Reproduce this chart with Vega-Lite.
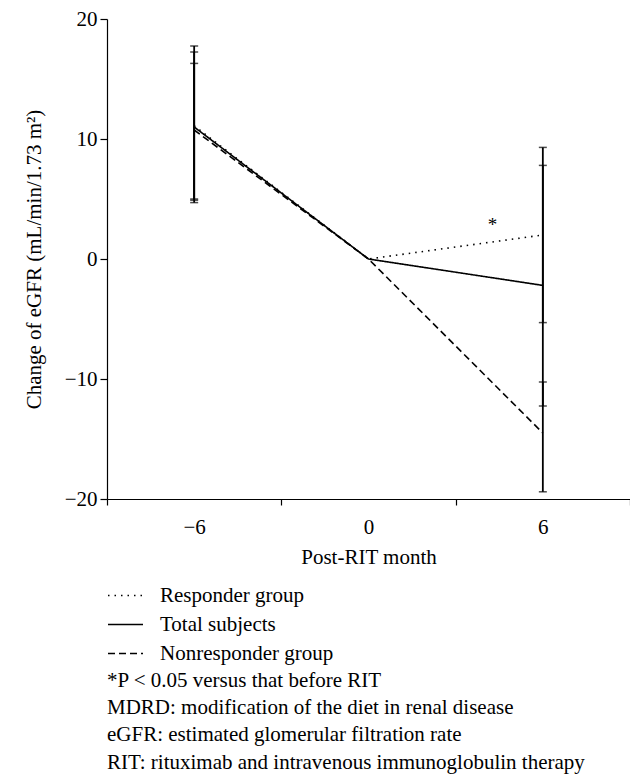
{
  "$schema": "https://vega.github.io/schema/vega-lite/v6.json",
  "width": 523,
  "height": 480,
  "autosize": "none",
  "padding": {"left": 107, "top": 19, "right": 0, "bottom": 276},
  "background": "white",
  "config": {
    "view": {"stroke": null},
    "font": "Liberation Serif",
    "axis": {
      "domainColor": "black",
      "tickColor": "black",
      "labelColor": "black",
      "titleColor": "black",
      "labelFont": "Liberation Serif",
      "titleFont": "Liberation Serif",
      "labelFontSize": 21,
      "titleFontSize": 21,
      "titleFontWeight": "normal",
      "grid": false,
      "domainWidth": 1.2,
      "tickWidth": 1.2
    },
    "legend": {
      "labelFont": "Liberation Serif",
      "labelFontSize": 21,
      "labelColor": "black"
    }
  },
  "title": {
    "text": [
      "*P < 0.05 versus that before RIT",
      "MDRD: modification of the diet in renal disease",
      "eGFR: estimated glomerular filtration rate",
      "RIT: rituximab and intravenous immunoglobulin therapy"
    ],
    "orient": "bottom",
    "anchor": "start",
    "frame": "group",
    "font": "Liberation Serif",
    "fontSize": 21,
    "fontWeight": "normal",
    "color": "black",
    "lineHeight": 27.2,
    "offset": 6
  },
  "datasets": {
    "series": [
      {"group": "Responder group", "month": -6, "mean": 11.1, "low": 4.7, "high": 17.75},
      {"group": "Responder group", "month": 0, "mean": 0, "low": null, "high": null},
      {"group": "Responder group", "month": 6, "mean": 2.0, "low": -5.3, "high": 9.3},
      {"group": "Total subjects", "month": -6, "mean": 11.0, "low": 4.9, "high": 17.25},
      {"group": "Total subjects", "month": 0, "mean": 0, "low": null, "high": null},
      {"group": "Total subjects", "month": 6, "mean": -2.2, "low": -12.25, "high": 7.8},
      {"group": "Nonresponder group", "month": -6, "mean": 10.75, "low": 5.0, "high": 16.3},
      {"group": "Nonresponder group", "month": 0, "mean": 0, "low": null, "high": null},
      {"group": "Nonresponder group", "month": 6, "mean": -14.5, "low": -19.4, "high": -10.25}
    ],
    "marks": [
      {"month": 4.27, "value": 2.35, "label": "*"}
    ]
  },
  "layer": [
    {
      "data": {"name": "series"},
      "mark": {"type": "line", "color": "black", "strokeWidth": 1.6},
      "encoding": {
        "x": {
          "field": "month", "type": "quantitative",
          "scale": {"domain": [-9, 9], "nice": false, "zero": false},
          "axis": {
            "title": "Post-RIT month",
            "values": [-9, -6, -3, 0, 3, 6, 9],
            "labelExpr": "datum.value % 6 === 0 ? datum.label : ''",
            "tickColor": {"condition": {"test": "datum.value % 6 === 0", "value": "transparent"}, "value": "black"},
            "tickSize": 6,
            "labelPadding": 11,
            "titlePadding": 9,
            "labelFlush": false,
            "labelOverlap": false
          }
        },
        "y": {
          "field": "mean", "type": "quantitative",
          "scale": {"domain": [-20, 20], "nice": false},
          "axis": {
            "title": "Change of eGFR (mL/min/1.73 m²)",
            "values": [-20, -10, 0, 10, 20],
            "tickSize": 7,
            "labelPadding": 3,
            "titlePadding": 20
          }
        },
        "strokeDash": {
          "field": "group", "type": "nominal",
          "scale": {
            "domain": ["Responder group", "Total subjects", "Nonresponder group"],
            "range": [[1.5, 5], [1, 0], [7, 4]]
          },
          "legend": {
            "title": null,
            "orient": "none",
            "legendX": 0,
            "legendY": 558,
            "symbolType": "stroke",
            "symbolSize": 1225,
            "symbolStrokeColor": "black",
            "symbolStrokeWidth": 1.5,
            "labelOffset": 16,
            "labelLimit": 500,
            "rowPadding": -8
          }
        }
      }
    },
    {
      "data": {"name": "series"},
      "transform": [{"filter": "datum.low != null"}],
      "mark": {"type": "rule", "color": "black", "strokeWidth": 1.8},
      "encoding": {
        "x": {"field": "month", "type": "quantitative"},
        "y": {"field": "low", "type": "quantitative"},
        "y2": {"field": "high"}
      }
    },
    {
      "data": {"name": "series"},
      "transform": [{"filter": "datum.low != null"}],
      "mark": {"type": "tick", "orient": "horizontal", "color": "black", "size": 8, "thickness": 1.5},
      "encoding": {
        "x": {"field": "month", "type": "quantitative"},
        "y": {"field": "low", "type": "quantitative"}
      }
    },
    {
      "data": {"name": "series"},
      "transform": [{"filter": "datum.low != null"}],
      "mark": {"type": "tick", "orient": "horizontal", "color": "black", "size": 8, "thickness": 1.5},
      "encoding": {
        "x": {"field": "month", "type": "quantitative"},
        "y": {"field": "high", "type": "quantitative"}
      }
    },
    {
      "data": {"name": "marks"},
      "mark": {"type": "text", "font": "Liberation Serif", "fontSize": 19, "color": "black", "baseline": "alphabetic"},
      "encoding": {
        "x": {"field": "month", "type": "quantitative"},
        "y": {"field": "value", "type": "quantitative"},
        "text": {"field": "label"}
      }
    }
  ]
}
